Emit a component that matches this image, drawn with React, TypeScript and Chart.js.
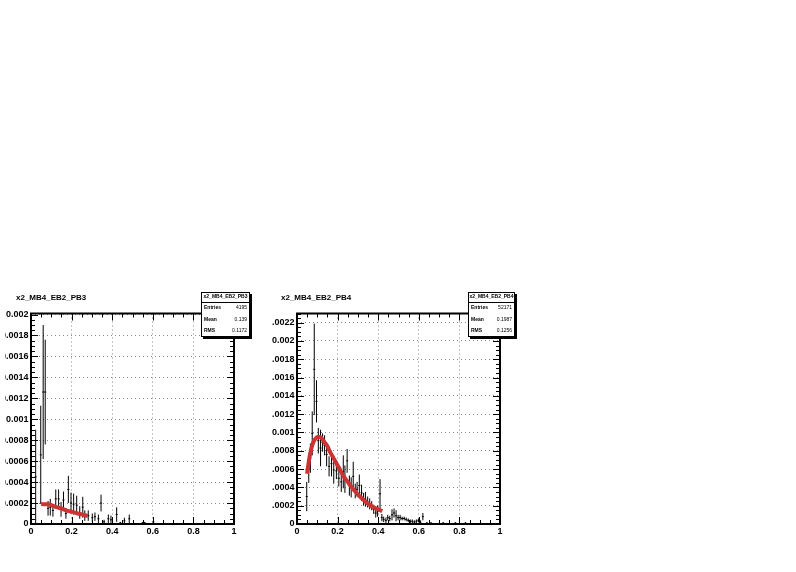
import React, { useEffect, useRef } from "react";
import { Chart, registerables } from "chart.js";

Chart.register(...registerables);

// ---------- data ----------
const statLabels = ["Entries", "Mean", "RMS"];

const titlePB3 = "x2_MB4_EB2_PB3";
const statsPB3 = ["4195", "0.139", "0.1172"];
const xPB3 = [0.023, 0.048, 0.06, 0.07, 0.084, 0.095, 0.108, 0.122, 0.136, 0.148, 0.16, 0.172, 0.184, 0.197, 0.21, 0.225, 0.24, 0.255, 0.265, 0.282, 0.302, 0.315, 0.332, 0.345, 0.36, 0.381, 0.394, 0.422, 0.44, 0.46, 0.484, 0.55, 0.56, 0.603];
const yPB3 = [0.00045, 0.00066, 0.00126, 0.00126, 0.00015, 0.00016, 0.00013, 0.00024, 0.00024, 0.00014, 0.00023, 0.0001, 0.00033, 0.0002, 0.00019, 0.00018, 0.00011, 0.00016, 0.00008, 0.00008, 0.00006, 0.00007, 0.00005, 0.0002, 0.00002, 0.00005, 0.00004, 0.00009, 0.00001, 0.00003, 0.00005, 0.00001, 0.00001, 0.00002];
const ePB3 = [0.00045, 0.00047, 0.00064, 0.0005, 0.00007, 0.00008, 0.00006, 0.00009, 0.00009, 0.00007, 0.00008, 0.00005, 0.00013, 0.0001, 0.0001, 0.00009, 0.00006, 0.0001, 0.00005, 0.00005, 0.00004, 0.00004, 0.00004, 0.00008, 0.00002, 0.00004, 0.00004, 0.00007, 0.00001, 0.00003, 0.00004, 0.00001, 0.00001, 0.00002];
const fitXPB3 = [0.05, 0.08, 0.1, 0.13, 0.15, 0.18, 0.2, 0.23, 0.25, 0.28];
const fitYPB3 = [0.00019, 0.000188, 0.00018, 0.000158, 0.000148, 0.000125, 0.000118, 0.0001, 0.000092, 0.000076];

const titlePB4 = "x2_MB4_EB2_PB4";
const statsPB4 = ["52171", "0.1987", "0.1256"];
const xPB4 = [0.048, 0.058, 0.066, 0.075, 0.085, 0.096, 0.105, 0.116, 0.126, 0.136, 0.146, 0.158, 0.17, 0.181, 0.194, 0.206, 0.218, 0.228, 0.236, 0.247, 0.258, 0.267, 0.277, 0.287, 0.296, 0.307, 0.318, 0.328, 0.337, 0.348, 0.358, 0.368, 0.378, 0.388, 0.397, 0.409, 0.418, 0.427, 0.438, 0.447, 0.457, 0.468, 0.478, 0.488, 0.498, 0.508, 0.518, 0.528, 0.538, 0.548, 0.558, 0.568, 0.578, 0.588, 0.598, 0.608, 0.62, 0.64, 0.66, 0.72, 0.78, 0.83];
const yPB4 = [0.0003, 0.00061, 0.00072, 0.00099, 0.00169, 0.00134, 0.00091, 0.00083, 0.00089, 0.00086, 0.00076, 0.00063, 0.00066, 0.00059, 0.00058, 0.0005, 0.00046, 0.00057, 0.00049, 0.00069, 0.00042, 0.0004, 0.00052, 0.00036, 0.00038, 0.00042, 0.00034, 0.00027, 0.00027, 0.00024, 0.00022, 0.0002, 0.00016, 0.00012, 0.00014, 0.00033, 0.00007, 0.00005, 0.00004, 0.00007, 0.00006, 0.0001, 0.00012, 0.00009, 0.00007, 0.00007, 0.00006, 0.00006, 0.00005, 0.00004, 0.00003, 0.00003, 0.00002, 0.00003, 0.00004, 0.00002, 0.00008, 0.00001, 0.00001, 0.00001, 0.00001, 0.00001];
const ePB4 = [0.00016, 0.00016, 0.00016, 0.00024, 0.0005, 0.00023, 0.00014, 0.0002, 0.0001, 0.00011, 0.00013, 0.00011, 0.00014, 0.00015, 0.00009, 0.00009, 0.00011, 0.00018, 0.00015, 0.00013, 0.00011, 0.00011, 0.00016, 0.00008, 0.00008, 0.00012, 0.00009, 0.00007, 0.00008, 0.00006, 0.00006, 0.00005, 0.00005, 0.00005, 0.00006, 0.00016, 0.00004, 0.00003, 0.00003, 0.00003, 0.00003, 0.00006, 0.00005, 0.00006, 0.00003, 0.00003, 0.00002, 0.00002, 0.00002, 0.00002, 0.00002, 0.00002, 0.00002, 0.00002, 0.00002, 0.00002, 0.00004, 0.00001, 0.00001, 0.00001, 0.00001, 0.00001];
const fitXPB4 = [0.05, 0.06, 0.07, 0.08, 0.09, 0.1, 0.11, 0.12, 0.13, 0.14, 0.15, 0.16, 0.18, 0.2, 0.21, 0.23, 0.25, 0.27, 0.3, 0.33, 0.35, 0.38, 0.4, 0.42];
const fitYPB4 = [0.00055, 0.00071, 0.00082, 0.00089, 0.00093, 0.00095, 0.00095, 0.00094, 0.00091, 0.00088, 0.00085, 0.0008, 0.00072, 0.00064, 0.0006, 0.00052, 0.00046, 0.0004, 0.00032, 0.00026, 0.00022, 0.00018, 0.00016, 0.00014];

const xTickStep = 0.2;
const yTickStep = 0.0002;
const binHalfWidth = 0.005;

// ---------- helpers ----------
function errorBarPoints(xs: number[], ys: number[], es: number[]) {
  const pts: any[] = [];
  for (let i = 0; i < xs.length; i++) {
    const lo = Math.max(0, ys[i] - es[i]);
    pts.push({ x: xs[i], y: lo }, { x: xs[i], y: ys[i] + es[i] }, { x: xs[i], y: null });
    pts.push({ x: xs[i] - binHalfWidth, y: ys[i] }, { x: xs[i] + binHalfWidth, y: ys[i] }, { x: xs[i] + binHalfWidth, y: null });
  }
  return pts;
}

const fmt = (v: number) => String(parseFloat(Number(v).toFixed(6)));

const rootDecor = {
  id: "rootDecor",
  afterDatasetsDraw(chart: any, _args: any, opts: any) {
    const { ctx, chartArea: a, scales } = chart;
    const xs = scales.x, ys = scales.y;
    ctx.save();
    // inward ticks on all four sides
    ctx.strokeStyle = "#000";
    ctx.lineWidth = 1;
    ctx.beginPath();
    for (let k = 0; k <= 20; k++) {
      const px = Math.round(xs.getPixelForValue(k * 0.05)) + 0.5;
      const L = k % 4 === 0 ? 7 : 4;
      ctx.moveTo(px, a.bottom); ctx.lineTo(px, a.bottom - L);
      ctx.moveTo(px, a.top); ctx.lineTo(px, a.top + L);
    }
    const nY = Math.floor(ys.max / (yTickStep / 4) + 1e-6);
    for (let k = 0; k <= nY; k++) {
      const py = Math.round(ys.getPixelForValue(k * yTickStep / 4)) + 0.5;
      const L = k % 4 === 0 ? 7 : 4;
      ctx.moveTo(a.left, py); ctx.lineTo(a.left + L, py);
      ctx.moveTo(a.right, py); ctx.lineTo(a.right - L, py);
    }
    ctx.stroke();
    // frame
    ctx.lineWidth = 2;
    ctx.strokeRect(a.left, a.top, a.right - a.left, a.bottom - a.top);

    // title
    ctx.fillStyle = "#000";
    ctx.font = 'bold 8px "Liberation Sans", Arial, sans-serif';
    ctx.textAlign = "left";
    ctx.textBaseline = "middle";
    ctx.fillText(opts.title, opts.titleX, opts.titleY);

    // stats box
    const b = opts.box;
    ctx.fillStyle = "#000";
    ctx.fillRect(b.x + 2, b.y + 2, b.w, b.h);
    ctx.fillStyle = "#fff";
    ctx.fillRect(b.x, b.y, b.w, b.h);
    ctx.lineWidth = 1;
    ctx.strokeStyle = "#000";
    ctx.strokeRect(b.x + 0.5, b.y + 0.5, b.w - 1, b.h - 1);
    const sepY = b.y + 9.5;
    ctx.beginPath();
    ctx.moveTo(b.x, Math.round(sepY) + 0.5);
    ctx.lineTo(b.x + b.w, Math.round(sepY) + 0.5);
    ctx.stroke();
    ctx.fillStyle = "#000";
    ctx.font = 'bold 5px "Liberation Sans", Arial, sans-serif';
    ctx.textAlign = "center";
    ctx.fillText(opts.title, b.x + b.w / 2, b.y + 5);
    const rowH = (b.y + b.h - sepY) / 3;
    for (let i = 0; i < 3; i++) {
      const cy = sepY + rowH * (i + 0.5);
      ctx.font = 'bold 5px "Liberation Sans", Arial, sans-serif';
      ctx.textAlign = "left";
      ctx.fillText(statLabels[i], b.x + 3, cy);
      ctx.font = '5px "Liberation Sans", Arial, sans-serif';
      ctx.textAlign = "right";
      ctx.fillText(opts.stats[i], b.x + b.w - 3, cy);
    }
    ctx.restore();
  },
};

type PanelProps = {
  title: string; stats: string[];
  xs: number[]; ys: number[]; es: number[];
  fitX: number[]; fitY: number[];
  yMax: number;
  left: number; top: number; width: number; height: number;
  yAxisW: number; padRight: number;
  titleX: number; box: { x: number; y: number; w: number; h: number };
};

function Panel(p: PanelProps) {
  const ref = useRef<HTMLCanvasElement | null>(null);
  useEffect(() => {
    if (!ref.current) return;
    const tickFont = { family: '"Liberation Sans", Arial, sans-serif', size: 9, weight: "bold" as const };
    const chart = new Chart(ref.current, {
      type: "line",
      data: {
        datasets: [
          {
            data: p.fitX.map((x, i) => ({ x, y: p.fitY[i] })),
            borderColor: "#cc3333",
            borderWidth: 4,
            pointRadius: 0,
            cubicInterpolationMode: "monotone",
            order: 0,
          },
          {
            data: errorBarPoints(p.xs, p.ys, p.es),
            borderColor: "#000",
            borderWidth: 1,
            pointRadius: 0,
            spanGaps: false,
            order: 1,
          },
        ],
      },
      options: {
        animation: false,
        responsive: false,
        maintainAspectRatio: false,
        layout: { padding: { top: 28.5, right: p.padRight, bottom: 0, left: 0 } },
        plugins: {
          legend: { display: false },
          tooltip: { enabled: false },
          title: { display: false },
          rootDecor: { title: p.title, stats: p.stats, titleX: p.titleX, titleY: 12.5, box: p.box },
        } as any,
        scales: {
          x: {
            type: "linear",
            min: 0,
            max: 1,
            ticks: {
              stepSize: xTickStep,
              font: tickFont,
              color: "#000",
              padding: 2,
              maxRotation: 0,
              autoSkip: false,
              callback: (v: any) => fmt(v),
            },
            grid: { color: "#888", lineWidth: 1, drawTicks: false },
            border: { display: false, dash: [1, 3] },
            afterFit: (s: any) => { s.height = 21; },
          },
          y: {
            type: "linear",
            min: 0,
            max: p.yMax,
            ticks: {
              stepSize: yTickStep,
              includeBounds: false,
              font: tickFont,
              color: "#000",
              padding: 2.5,
              autoSkip: false,
              callback: (v: any) => fmt(v),
            },
            grid: { color: "#888", lineWidth: 1, drawTicks: false },
            border: { display: false, dash: [1, 3] },
            afterFit: (s: any) => { s.width = p.yAxisW; },
          },
        },
      } as any,
      plugins: [rootDecor],
    });
    return () => chart.destroy();
  }, []);
  return (
    <canvas
      ref={ref}
      width={p.width}
      height={p.height}
      style={{ position: "absolute", left: p.left, top: p.top, width: p.width, height: p.height }}
    />
  );
}

export default function App() {
  return (
    <div style={{ position: "fixed", left: 0, top: 0, width: 796, height: 572, background: "#fff", overflow: "hidden" }}>
      <Panel
        title={titlePB3} stats={statsPB3}
        xs={xPB3} ys={yPB3} es={ePB3}
        fitX={fitXPB3} fitY={fitYPB3}
        yMax={0.00201}
        left={5} top={285} width={260} height={260}
        yAxisW={26} padRight={31}
        titleX={11}
        box={{ x: 196, y: 7, w: 49, h: 45 }}
      />
      <Panel
        title={titlePB4} stats={statsPB4}
        xs={xPB4} ys={yPB4} es={ePB4}
        fitX={fitXPB4} fitY={fitYPB4}
        yMax={0.0023}
        left={272} top={285} width={252} height={260}
        yAxisW={25} padRight={24}
        titleX={9}
        box={{ x: 196, y: 7, w: 47, h: 45 }}
      />
    </div>
  );
}
